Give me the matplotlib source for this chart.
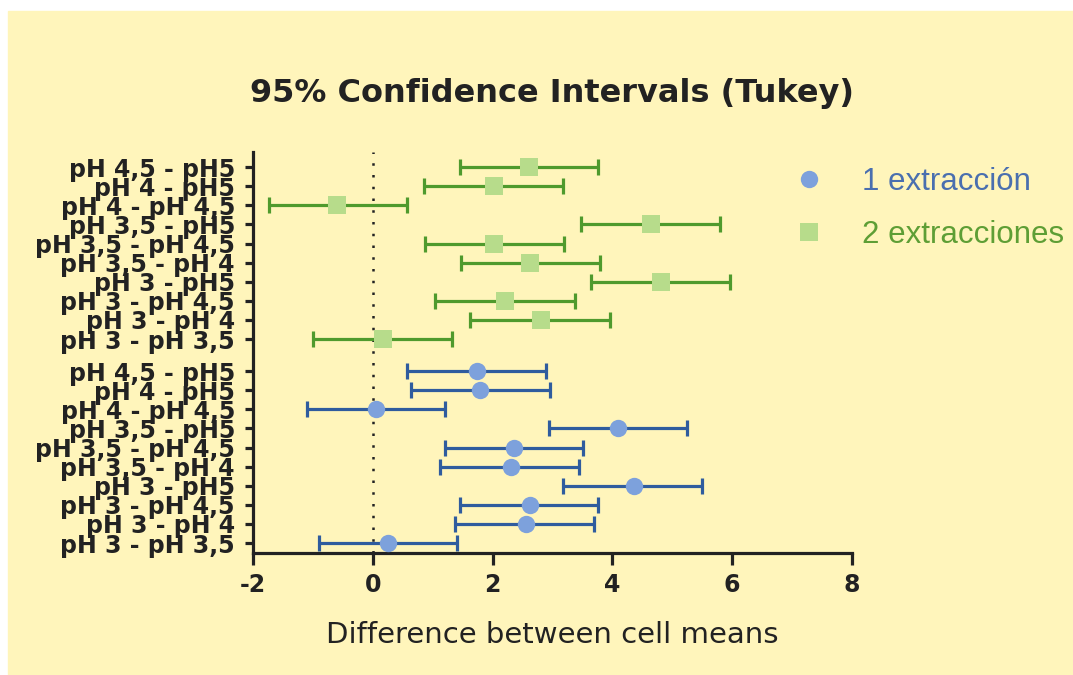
import matplotlib
matplotlib.use("Agg")
import matplotlib.pyplot as plt
from matplotlib.patches import Rectangle
import numpy as np

plt.rcParams["axes.unicode_minus"] = False

# comparisons, listed top to bottom inside each group
labels = ["pH 4,5 - pH5", "pH 4 - pH5", "pH 4 - pH 4,5", "pH 3,5 - pH5",
          "pH 3,5 - pH 4,5", "pH 3,5 - pH 4", "pH 3 - pH5", "pH 3 - pH 4,5",
          "pH 3 - pH 4", "pH 3 - pH 3,5"]

# 1 extraccion (lower group)
blue_mean = [1.74, 1.79, 0.06, 4.09, 2.35, 2.30, 4.36, 2.62, 2.55, 0.26]
blue_low = [0.57, 0.64, -1.10, 2.94, 1.20, 1.13, 3.18, 1.45, 1.38, -0.90]
blue_high = [2.89, 2.95, 1.21, 5.25, 3.51, 3.44, 5.50, 3.76, 3.70, 1.40]

# 2 extracciones (upper group)
green_mean = [2.61, 2.02, -0.60, 4.64, 2.03, 2.63, 4.81, 2.21, 2.80, 0.17]
green_low = [1.45, 0.85, -1.74, 3.48, 0.87, 1.47, 3.65, 1.04, 1.63, -0.99]
green_high = [3.76, 3.18, 0.57, 5.80, 3.19, 3.79, 5.97, 3.37, 3.96, 1.32]

series_names = ["1 extracción", "2 extracciones"]

BG = "#FFF5BB"
BLUE_BAR, BLUE_DOT, BLUE_TXT = "#2F5C9E", "#7DA1DC", "#4A6FAF"
GREEN_BAR, GREEN_DOT, GREEN_TXT = "#4F9A2D", "#B7DC8B", "#5E9E35"
INK = "#222222"

n = len(labels)
gap = 1.68
y_blue = np.arange(n)[::-1].astype(float)
y_green = y_blue + n - 1 + gap

fig = plt.figure(figsize=(10.73, 6.75), dpi=100, facecolor="white")
fig.patches.append(Rectangle((8 / 1073, 0), 1, (675 - 11) / 675,
                             transform=fig.transFigure, color=BG, zorder=-10))

ax = fig.add_axes([253 / 1073, (675 - 553) / 675, 599 / 1073, 401 / 675])
ax.set_facecolor("none")


def draw_group(y, mean, low, high, bar_col, dot_col, marker, name):
    mean = np.array(mean)
    err = [mean - np.array(low), np.array(high) - mean]
    ax.errorbar(mean, y, xerr=err, fmt="none", ecolor=bar_col, elinewidth=2.3,
                capsize=5.5, capthick=2.3, zorder=3)
    ax.plot(mean, y, linestyle="none", marker=marker, markersize=12.5,
            color=dot_col, markeredgewidth=0, label=name, zorder=4)


draw_group(y_blue, blue_mean, blue_low, blue_high, BLUE_BAR, BLUE_DOT, "o", series_names[0])
draw_group(y_green, green_mean, green_low, green_high, GREEN_BAR, GREEN_DOT, "s", series_names[1])

ax.axvline(0, color=INK, linestyle=(0, (1, 3.7)), linewidth=1.8, zorder=2)

ax.set_xlim(-2, 8)
ax.set_ylim(-0.52, 20.47)
ax.set_xticks([-2, 0, 2, 4, 6, 8])
ax.set_yticks(np.concatenate([y_green, y_blue]))
ax.set_yticklabels(labels + labels)

for s in ["top", "right"]:
    ax.spines[s].set_visible(False)
for s in ["left", "bottom"]:
    ax.spines[s].set_linewidth(2.3)
    ax.spines[s].set_color(INK)

ax.tick_params(axis="y", length=6, width=2.3, color=INK, pad=7)
ax.tick_params(axis="x", length=8.5, width=2.3, color=INK, pad=6)
for t in ax.get_yticklabels() + ax.get_xticklabels():
    t.set_fontfamily("DejaVu Sans")
    t.set_fontweight("bold")
    t.set_fontsize(17)
    t.set_color(INK)

ax.set_xlabel("Difference between cell means", fontsize=21, color=INK,
              family="DejaVu Sans", labelpad=17)
ax.set_title("95% Confidence Intervals (Tukey)", fontsize=23, fontweight="bold",
             color=INK, family="DejaVu Sans", pad=36)

leg = ax.legend(loc="upper left", bbox_to_anchor=(765 / 1073, 1 - 139 / 675),
                bbox_transform=fig.transFigure, frameon=False,
                prop={"family": "Liberation Sans", "size": 22.5},
                handlelength=1.0, handletextpad=1.2, labelspacing=0.72,
                markerscale=1.0)
for txt, col in zip(leg.get_texts(), [BLUE_TXT, GREEN_TXT]):
    txt.set_color(col)

fig.savefig("out.png", dpi=100, facecolor=fig.get_facecolor())
